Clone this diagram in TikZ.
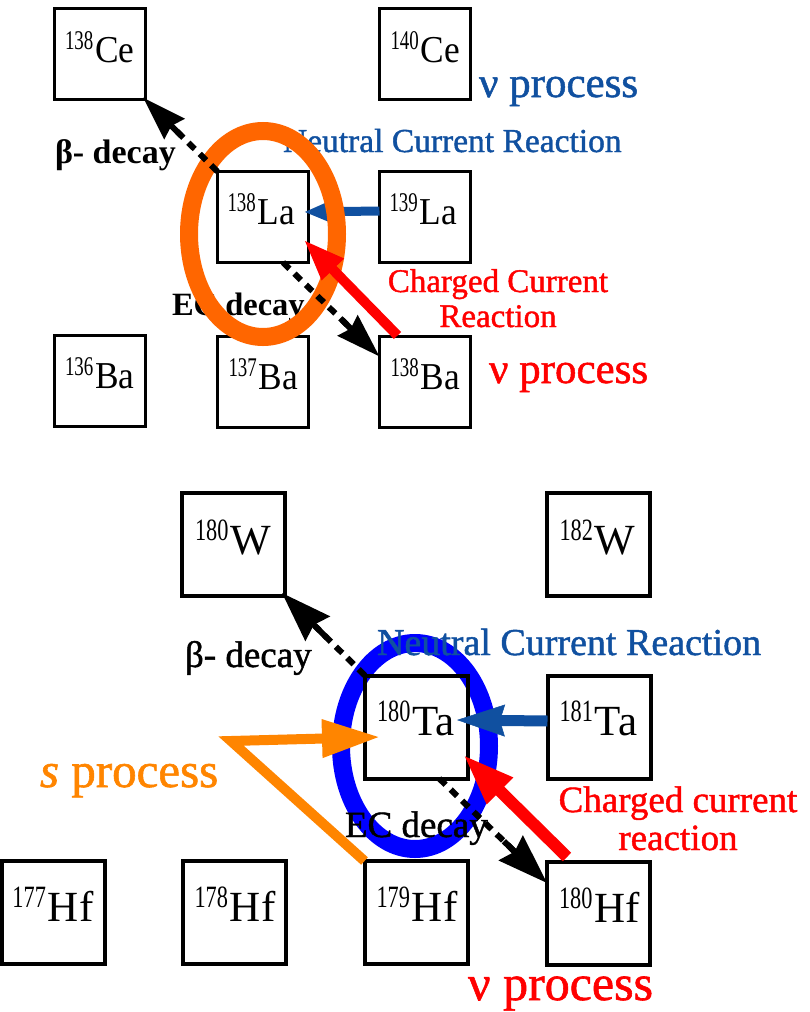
\documentclass[tikz,border=0pt]{standalone}
\usepackage{fontspec}
\setmainfont{Liberation Serif}
\newfontfamily\heavy[FakeBold=1.2]{Liberation Serif}
\usetikzlibrary{arrows.meta,shapes.geometric,calc}
\definecolor{ncblue}{RGB}{16,80,160}
\definecolor{ovalorange}{RGB}{255,102,0}
\definecolor{sorange}{RGB}{255,133,0}
\definecolor{ovalblue}{RGB}{0,0,255}
\definecolor{ccred}{RGB}{255,0,0}
\newcommand\fsz[1]{\fontsize{#1}{#1}\selectfont}
\newcommand\topiso[2]{\raisebox{13pt}{\scalebox{0.7}[1]{\fsz{27}#1}}\hspace{2pt}\scalebox{0.93}[1]{\fsz{38}#2}}
\newcommand\botiso[2]{\raisebox{14pt}{\scalebox{0.72}[1]{\fsz{31}#1}}\hspace{2pt}{\fsz{43}#2}}
\tikzset{
  topbox/.style={draw=black, line width=3pt, minimum size=91pt, inner sep=0pt, outer sep=0pt},
  botbox/.style={draw=black, line width=4pt, minimum size=103pt, inner sep=0pt, outer sep=0pt},
  isolabel/.style={anchor=base west, inner sep=0pt, outer sep=0pt},
  lbl/.style={anchor=base west, inner sep=0pt, outer sep=0pt},
  decayline/.style={draw=black, line width=6pt, dash pattern=on 9pt off 7pt},
  decaytip/.style={draw=black, line width=6pt, solid, -{Stealth[length=#1]}},
  oval/.style={ellipse, draw=#1, line width=18pt, minimum width=148pt, minimum height=206pt, inner sep=0pt},
}
\begin{document}
\begin{tikzpicture}[x=1pt,y=-1pt]
\useasboundingbox (0,0) rectangle (810,1012);
\fill[white] (0,0) rectangle (810,1012);

% ---------- bottom oval (behind) ----------
\node[oval=ovalblue] (ovalTa) at (415,746) {};

% ---------- top boxes ----------
\node[topbox] (Ce138) at (99.5,54) {};
\node[topbox] (Ce140) at (425,54) {};
\node[topbox] (La138) at (263,217) {};
\node[topbox] (La139) at (425,217) {};
\node[topbox] (Ba136) at (99.5,381) {};
\node[topbox] (Ba137) at (263,382) {};
\node[topbox] (Ba138) at (425,382) {};
\node[isolabel] (Ce138l) at ($(Ce138.north west)+(11,54)$) {\topiso{138}{Ce}};
\node[isolabel] (Ce140l) at ($(Ce140.north west)+(11,54)$) {\topiso{140}{Ce}};
\node[isolabel] (La138l) at ($(La138.north west)+(10,53)$) {\topiso{138}{La}};
\node[isolabel] (La139l) at ($(La139.north west)+(10,53)$) {\topiso{139}{La}};
\node[isolabel] (Ba136l) at ($(Ba136.north west)+(11,53)$) {\topiso{136}{Ba}};
\node[isolabel] (Ba137l) at ($(Ba137.north west)+(11,53)$) {\topiso{137}{Ba}};
\node[isolabel] (Ba138l) at ($(Ba138.north west)+(11,53)$) {\topiso{138}{Ba}};

% ---------- bottom boxes ----------
\node[botbox] (W180) at (233.5,544.5) {};
\node[botbox] (W182) at (598,544.5) {};
\node[botbox] (Ta180) at (416.5,727) {};
\node[botbox] (Ta181) at (599,727) {};
\node[botbox] (Hf177) at (53,912.5) {};
\node[botbox] (Hf178) at (234,912.5) {};
\node[botbox] (Hf179) at (416,912.5) {};
\node[botbox] (Hf180) at (598.5,913.5) {};
\node[isolabel] (W180l) at ($(W180.north west)+(13,61)$) {\botiso{180}{W}};
\node[isolabel] (W182l) at ($(W182.north west)+(13,61)$) {\botiso{182}{W}};
\node[isolabel] (Ta180l) at ($(Ta180.north west)+(12,60)$) {\botiso{180}{Ta}};
\node[isolabel] (Ta181l) at ($(Ta181.north west)+(12,60)$) {\botiso{181}{Ta}};
\node[isolabel] (Hf177l) at ($(Hf177.north west)+(11,60)$) {\botiso{177}{Hf}};
\node[isolabel] (Hf178l) at ($(Hf178.north west)+(12,60)$) {\botiso{178}{Hf}};
\node[isolabel] (Hf179l) at ($(Hf179.north west)+(12,60)$) {\botiso{179}{Hf}};
\node[isolabel] (Hf180l) at ($(Hf180.north west)+(12,60)$) {\botiso{180}{Hf}};

% ---------- top: labels and arrows ----------
\node[lbl, text=ncblue] (nuTop) at (479,97) {\heavy\fsz{43}ν process};
\node[lbl, text=ncblue] (ncTop) at (283,152) {\heavy\fsz{33.5}Neutral Current Reaction};
\node[lbl] (betaTop) at (55,163) {\fsz{34}\bfseries β- decay};
\node[lbl] (ecTop) at (172,315) {\fsz{32.5}\bfseries EC decay};
\node[anchor=base, align=center, inner sep=0pt, text=ccred, font=\heavy\fsz{33}] (ccTop) at (498,327) {Charged Current\\[2pt]Reaction};
\node[lbl, text=ccred] (nuTopR) at (489,383) {\heavy\fsz{43}ν process};

\draw[draw=ncblue, line width=9pt, -{Triangle[length=30pt,width=22pt]}] ($(La139.west)+(0,-6)$) -- ($(La138.east)+(-5,-5)$);
\node[oval=ovalorange] (ovalLa) at (263,234) {};
\draw[decayline] (La138.north west) -- ($(Ce138.south east)+(26,26)$);
\draw[decaytip={44pt 0 0,width=28pt,inset=4pt}] ($(Ce138.south east)+(36,36)$) -- ($(Ce138.south east)+(-2,-2)$);
\coordinate (ecTopStart) at ($(La138.south west)!0.72!(La138.south east)$);
\coordinate (ecTopEnd) at ($(Ba138.north west)+(0,20)$);
\draw[decayline] (ecTopStart) -- ($(ecTopEnd)!36pt!(ecTopStart)$);
\draw[decaytip={44pt 0 0,width=28pt,inset=4pt}] ($(ecTopEnd)!52pt!(ecTopStart)$) -- (ecTopEnd);
\draw[draw=ccred, line width=10pt, -{Triangle[length=42pt,width=28pt]}] ($(Ba138.north west)+(18,-1)$) -- ($(La138.south east)+(-5,-23)$);

% ---------- bottom: labels and arrows ----------
\node[lbl] (betaBot) at (185,667) {\heavy\fsz{37}β- decay};
\node[lbl, text=ncblue] (ncBot) at (377,655) {\heavy\fsz{38}Neutral Current Reaction};
\node[lbl, text=sorange] (sBot) at (40,787) {\heavy\fsz{49}\textit{s} process};
\node[lbl] (ecBot) at (345,837) {\heavy\fsz{37}EC decay};
\node[anchor=base, align=center, inner sep=0pt, text=ccred, font=\heavy\fsz{37}] (ccBot) at (678,850) {Charged current\\[1pt]reaction};
\node[lbl, text=ccred] (nuBot) at (468,1000) {\heavy\fsz{50}ν process};

\coordinate (sv) at (231,741);
\draw[draw=sorange, line width=10pt, miter limit=20, -{Triangle[length=58pt,width=36pt]}] (Hf179.north west) -- (sv) -- ($(Ta180.west)+(15,10)$);
\draw[draw=ncblue, line width=11pt, -{Stealth[length=48pt,width=32pt,inset=5pt,line width=0.5pt]}] ($(Ta181.west)+(0,-6)$) -- ($(Ta180.east)+(-11,-7)$);
\draw[decayline] (Ta180.north west) -- ($(W180.south east)+(30,30)$);
\draw[decaytip={50pt 0 0,width=34pt,inset=5pt}] ($(W180.south east)+(42,42)$) -- ($(W180.south east)+(-3,-3)$);
\coordinate (ecBotStart) at ($(Ta180.south west)!0.72!(Ta180.south east)$);
\coordinate (ecBotEnd) at ($(Hf180.north west)+(0,21)$);
\draw[decayline] (ecBotStart) -- ($(ecBotEnd)!42pt!(ecBotStart)$);
\draw[decaytip={50pt 0 0,width=34pt,inset=5pt}] ($(ecBotEnd)!60pt!(ecBotStart)$) -- (ecBotEnd);
\draw[draw=ccred, line width=12pt, -{Triangle[length=52pt,width=34pt]}] ($(Hf180.north west)+(20,-5)$) -- ($(Ta180.south east)+(-5,-24)$);
\end{tikzpicture}
\end{document}
